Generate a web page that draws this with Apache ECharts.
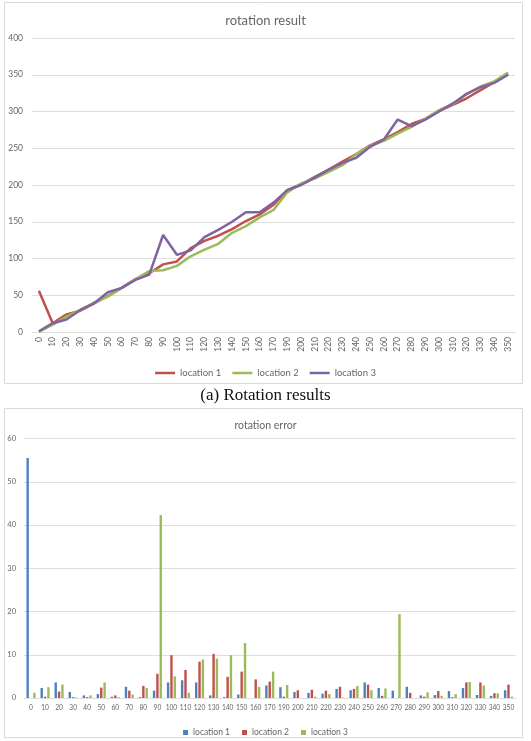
<!DOCTYPE html>
<html>
<head>
<meta charset="utf-8">
<title>rotation result / rotation error</title>
<script src="https://cdn.jsdelivr.net/npm/echarts@6/dist/echarts.min.js"></script>
<style>
  html, body { margin: 0; padding: 0; background: #fff; }
  #main { width: 531px; height: 741px; }
</style>
</head>
<body>
<div id="main"></div>
<script>
// 角度类别（180 在原图中缺失）
var angles = ['0', '10', '20', '30', '40', '50', '60', '70', '80', '90',
  '100', '110', '120', '130', '140', '150', '160', '170', '190', '200',
  '210', '220', '230', '240', '250', '260', '270', '280', '290', '300',
  '310', '320', '330', '340', '350'];

var seriesNames = ['location 1', 'location 2', 'location 3'];

// rotation result
var loc1Result = [56, 12, 24, 29, 39, 49, 60, 72, 80, 92, 96, 114, 124, 131, 140, 151, 160, 173, 193, 201,
  211, 221, 232, 242, 254, 262, 272, 283, 290, 301, 309, 318, 329, 340, 351];
var loc2Result = [0, 10, 21, 30, 40, 48, 60, 72, 83, 84, 90, 103, 112, 120, 135, 144, 156, 166, 190, 202,
  209, 218, 227, 242, 253, 260, 270, 279, 290, 302, 310, 324, 334, 341, 353];
var loc3Result = [1, 12, 17, 30, 39, 54, 60, 71, 78, 132, 105, 111, 129, 139, 150, 163, 163, 176, 193, 200,
  210, 221, 230, 237, 252, 262, 289, 280, 289, 300, 311, 324, 333, 339, 350];

// rotation error
var loc1Error = [55.5, 2.3, 3.6, 1.4, 0.6, 0.9, 0.3, 2.6, 0.2, 1.7, 3.6, 4.1, 3.6, 0.6, 0.2, 0.8, 0, 2.9, 2.5, 1.4,
  1.2, 1.0, 2.1, 1.8, 3.6, 2.3, 1.7, 2.6, 0.6, 0.7, 1.6, 2.3, 0.7, 0.5, 1.8];
var loc2Error = [0, 0.3, 1.5, 0.2, 0.2, 2.4, 0.6, 1.7, 2.8, 5.6, 9.9, 6.5, 8.4, 10.2, 4.9, 6.1, 4.3, 3.8, 0.3, 1.8,
  1.9, 1.7, 2.6, 2.1, 3.1, 0.5, 0, 1.2, 0.3, 1.6, 0.2, 3.6, 3.6, 1.1, 3.1];
var loc3Error = [1.2, 2.5, 3.1, 0.1, 0.6, 3.6, 0.2, 0.8, 2.3, 42.3, 5.0, 1.2, 8.9, 9.1, 9.9, 12.7, 2.6, 6.1, 3.0, 0,
  0.3, 0.9, 0.1, 2.8, 1.8, 2.2, 19.4, 0, 1.3, 0.5, 0.9, 3.7, 2.9, 1.1, 0.3];

var lineColors = ['#C0504D', '#9BBB59', '#8064A2'];
var barColors = ['#4F81BD', '#C0504D', '#9BBB59'];
var textColor = '#666';
var gridColor = '#dedede';
var font = 'Lato';

var chart = echarts.init(document.getElementById('main'));

var resultData = [loc1Result, loc2Result, loc3Result];
var errorData = [loc1Error, loc2Error, loc3Error];

var series = [];
for (var i = 0; i < 3; i++) {
  series.push({
    name: seriesNames[i],
    type: 'line',
    xAxisIndex: 0,
    yAxisIndex: 0,
    symbol: 'none',
    data: resultData[i],
    color: lineColors[i],
    lineStyle: { width: 2.5, color: lineColors[i] },
    animation: false
  });
}
for (var k = 0; k < 3; k++) {
  series.push({
    name: seriesNames[k] + ' ',
    type: 'bar',
    xAxisIndex: 1,
    yAxisIndex: 1,
    barWidth: 2.4,
    barGap: '40%',
    data: errorData[k],
    itemStyle: { color: barColors[k] },
    animation: false
  });
}

var option = {
  backgroundColor: '#fff',
  textStyle: { fontFamily: font },
  title: [{
    text: 'rotation result',
    left: 'center',
    top: 9,
    textStyle: { fontSize: 13, fontWeight: 'normal', color: '#666', fontFamily: font }
  }, {
    text: 'rotation error',
    left: 'center',
    top: 415,
    textStyle: { fontSize: 10.5, fontWeight: 'normal', color: '#666', fontFamily: font }
  }],
  legend: [{
    data: seriesNames,
    top: 363,
    left: 'center',
    icon: 'rect',
    itemWidth: 20,
    itemHeight: 2.5,
    itemGap: 11,
    textStyle: { fontSize: 9.5, color: textColor, fontFamily: font }
  }, {
    data: seriesNames.map(function (n) { return n + ' '; }),
    top: 723,
    left: 'center',
    icon: 'rect',
    itemWidth: 5,
    itemHeight: 5,
    itemGap: 12,
    formatter: function (n) { return n.trim(); },
    textStyle: { fontSize: 8.5, color: textColor, fontFamily: font }
  }],
  grid: [{
    left: 32, right: 16, top: 38, height: 294
  }, {
    left: 24, right: 15.5, top: 438.5, height: 259.5
  }],
  xAxis: [{
    type: 'category',
    gridIndex: 0,
    data: angles,
    boundaryGap: true,
    axisLine: { lineStyle: { color: gridColor, width: 1 } },
    axisTick: { show: false },
    axisLabel: { rotate: 90, interval: 0, fontSize: 8.5, color: textColor, margin: 5 }
  }, {
    type: 'category',
    gridIndex: 1,
    data: angles,
    axisLine: { lineStyle: { color: gridColor, width: 1 } },
    axisTick: { show: false },
    axisLabel: { interval: 0, fontSize: 6.6, color: textColor, margin: 6 }
  }],
  yAxis: [{
    type: 'value',
    gridIndex: 0,
    min: 0,
    max: 400,
    interval: 50,
    axisLine: { show: false },
    axisTick: { show: false },
    axisLabel: { fontSize: 8.5, color: textColor, margin: 9 },
    splitLine: { lineStyle: { color: gridColor, width: 1 } }
  }, {
    type: 'value',
    gridIndex: 1,
    min: 0,
    max: 60,
    interval: 10,
    axisLine: { show: false },
    axisTick: { show: false },
    axisLabel: { fontSize: 7.5, color: textColor, margin: 8 },
    splitLine: { lineStyle: { color: gridColor, width: 1 } }
  }],
  graphic: [{
    type: 'rect',
    shape: { x: 4.5, y: 2.5, width: 518, height: 381 },
    style: { fill: 'none', stroke: '#d9d9d9', lineWidth: 1 },
    silent: true
  }, {
    type: 'rect',
    shape: { x: 4.5, y: 408.5, width: 518, height: 329 },
    style: { fill: 'none', stroke: '#d9d9d9', lineWidth: 1 },
    silent: true
  }, {
    type: 'text',
    left: 'center',
    top: 387,
    style: {
      text: '(a) Rotation results',
      fill: '#111',
      font: '17px "Liberation Serif", serif'
    }
  }],
  series: series
};

chart.setOption(option);
</script>
</body>
</html>
